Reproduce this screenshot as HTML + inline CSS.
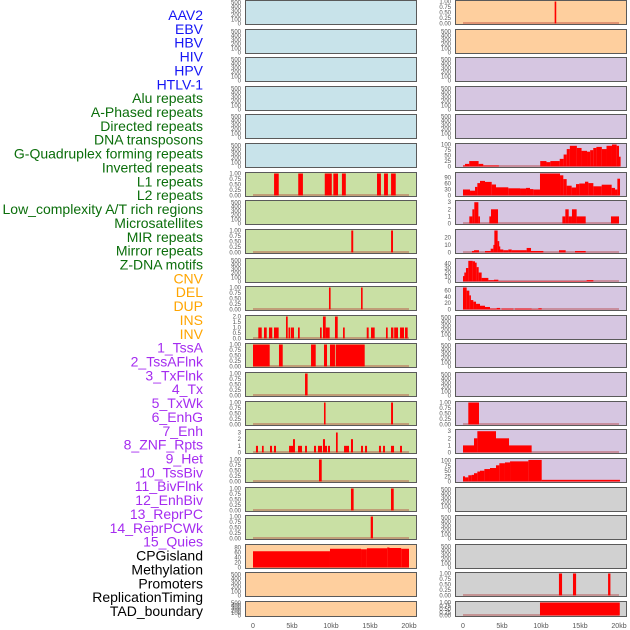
<!DOCTYPE html>
<html><head><meta charset="utf-8">
<style>
html,body{margin:0;padding:0;background:#fff;width:630px;height:630px;overflow:hidden}
svg{display:block}
</style></head>
<body>
<svg id="chart" width="630" height="630" xmlns="http://www.w3.org/2000/svg"></svg>
<script>
// ---------- data (kb positions, values) ----------
const labels = ["AAV2","EBV","HBV","HIV","HPV","HTLV-1","Alu repeats","A-Phased repeats","Directed repeats","DNA transposons","G-Quadruplex forming repeats","Inverted repeats","L1 repeats","L2 repeats","Low_complexity A/T rich regions","Microsatellites","MIR repeats","Mirror repeats","Z-DNA motifs","CNV","DEL","DUP","INS","INV","1_TssA","2_TssAFlnk","3_TxFlnk","4_Tx","5_TxWk","6_EnhG","7_Enh","8_ZNF_Rpts","9_Het","10_TssBiv","11_BivFlnk","12_EnhBiv","13_ReprPC","14_ReprPCWk","15_Quies","CPGisland","Methylation","Promoters","ReplicationTiming","TAD_boundary"];
const labelGroups = [6,13,5,15,5];
const groupColors = ["#1515f5","#0b6e0b","#ffa500","#a52cf0","#000000"];
const xTicks = [0,5,10,15,20];
const xTickLabels = ["0","5kb","10kb","15kb","20kb"];

const L_L1 = [[2.7,3.3,1],[5.8,6.4,1],[9.2,10.1,1],[10.3,10.9,1],[11.4,11.9,1],[15.9,16.4,1],[16.8,17.3,1],[17.7,18.3,1]];
const L_MIR = [[12.6,12.85,1],[17.7,17.95,1]];
const L_DEL = [[9.74,9.95,1],[13.85,14.05,1]];
const L_INS = [[0.68,1.12,1],[1.41,1.76,1],[2.05,2.47,1],[2.69,3.29,1],[4.23,4.45,2],[4.55,4.75,1],[4.85,5.0,1],[5.05,5.22,1],[5.77,5.99,1],[8.59,8.81,1],[8.97,9.32,2],[9.32,9.83,1],[10.51,10.86,2],[11.54,11.76,1],[14.58,14.83,1],[15.13,15.6,1],[17.05,17.27,1],[17.69,18.0,1],[18.1,18.59,1],[18.85,19.36,1],[19.49,19.83,1]];
const L_TSSA = [[0,2.14,1],[3.33,3.81,1],[7.44,8.04,1],[9.1,9.49,1],[9.87,10.51,1],[10.6,14.32,1]];
const L_TSSAFLNK = [[6.67,7.0,1]];
const L_TXWK = [[9.1,9.3,1],[17.7,17.95,1]];
const L_ENH = [[0.38,0.64,1],[1.15,1.37,1],[2.18,2.44,1],[2.69,2.95,1],[4.62,4.87,1],[4.87,5.13,1],[5.13,5.38,2],[5.77,6.28,1],[6.67,6.92,1],[7.82,8.08,1],[8.33,8.85,1],[8.97,9.23,2],[9.23,9.49,1],[9.62,9.87,1],[10.64,10.86,3],[11.67,12.31,1],[12.56,12.82,2],[13.85,14.1,1],[14.36,14.62,1],[16.15,16.41,1],[16.67,16.92,1],[17.69,18.08,1],[18.85,19.1,1]];
const L_HET = [[8.46,8.81,1]];
const L_ENHBIV = [[12.56,12.9,1],[17.69,18.04,1]];
const L_REPRPCWK = [[15.09,15.38,1]];
const L_CPG = [[0,9.87,65],[9.87,13.85,75],[13.85,14.6,73],[14.6,17.2,77],[17.2,17.5,80],[17.5,19.0,78],[19.0,20,75]];

const R_AAV2 = [[11.75,11.95,1]];
const R_GQUAD = [[0,0.26,5],[0.26,0.8,12],[0.8,2.0,25],[2.0,2.6,12],[2.6,4.6,5],[9.9,10.7,25],[10.7,11.2,20],[11.2,12.4,25],[12.4,12.9,35],[12.9,13.3,55],[13.3,13.7,80],[13.7,14.6,95],[14.6,15.2,85],[15.2,15.9,72],[15.9,16.3,68],[16.3,16.7,75],[16.7,17.1,85],[17.1,17.8,90],[17.8,18.4,80],[18.4,19.1,95],[19.1,19.7,104],[19.7,20.0,95],[20.0,20.13,45]];
const R_L1 = [[0,0.9,30],[0.9,1.54,24],[1.54,1.84,43],[1.84,2.18,62],[2.18,2.82,73],[2.82,3.68,68],[3.68,4.23,55],[4.23,5.81,41],[5.81,7.31,36],[7.31,8.08,35],[8.08,8.59,38],[8.59,9.02,32],[9.02,9.87,30],[9.87,12.44,110],[12.44,12.86,101],[12.86,13.29,82],[13.29,13.93,49],[13.93,14.49,40],[14.49,14.91,57],[14.91,15.64,60],[15.64,16.07,69],[16.07,16.71,62],[16.71,17.78,46],[17.78,19.06,54],[19.06,19.49,38],[19.49,19.79,30],[19.79,20.13,84]];
const R_L2 = [[0.81,1.2,1],[1.2,1.45,2],[1.45,1.97,3],[1.97,2.05,1],[3.38,3.59,1],[3.59,4.49,2],[12.74,13.12,1],[13.12,13.55,2],[13.55,13.97,1],[13.97,14.57,2],[14.57,15.73,1],[18.97,20.0,1]];
const R_LOWC = [];
const R_MIR = [[1.15,1.41,2],[1.41,2.05,3],[2.82,3.55,2],[3.55,3.89,5],[3.89,4.02,10],[4.02,4.44,29],[4.44,4.57,15],[4.57,4.74,8],[4.74,5.17,4],[5.17,5.81,3],[5.81,6.24,4],[6.24,8.16,3],[8.16,8.72,6],[8.72,10.3,2],[12.31,13.16,3],[14.36,15.73,2]];
const R_ZDNA = [[0,0.17,12],[0.17,0.38,20],[0.38,0.68,30],[0.68,1.24,46],[1.24,1.54,45],[1.54,1.75,42],[1.75,2.01,32],[2.01,2.39,20],[2.39,3.25,8],[3.25,3.97,3],[3.97,4.53,4],[4.53,15.85,1],[15.85,16.71,3]];
const R_CNV = [[0,0.47,70],[0.47,0.81,60],[0.81,0.98,45],[0.98,1.32,30],[1.32,1.67,25],[1.67,2.18,18],[2.18,2.82,12],[2.82,3.46,8],[3.46,4.32,3],[4.32,4.74,5],[4.96,6.45,3],[6.67,8.8,3],[8.8,9.66,1],[9.66,10.09,4]];
const R_TXWK = [[0.68,2.05,1]];
const R_ENHG = [[0,1.41,1],[1.41,1.84,2],[1.84,4.23,3],[4.23,5.9,2],[5.9,8.8,1]];
const R_ENH = [[0,0.26,25],[0.26,0.68,20],[0.68,1.11,30],[1.11,1.41,32],[1.41,1.84,40],[1.84,2.18,48],[2.18,2.74,52],[2.74,3.46,60],[3.46,4.23,65],[4.23,4.66,78],[4.66,5.38,88],[5.38,6.03,92],[6.03,8.38,97],[8.38,10.09,104],[10.09,20.13,8]];
const R_PROM = [[12.3,12.7,1],[14.1,14.5,1],[18.6,18.9,1]];
const R_TAD = [[9.87,20.1,1]];

// tick sets
const tEmpty = [0,100,200,300,400,500];
const tUnit = [0,0.25,0.5,0.75,1];
const tIns = [0,0.5,1,1.5,2];
const t0to3 = [0,1,2,3];
const tCpg = [0,20,40,60,80];
const t100 = [0,25,50,75,100];
const t90 = [0,30,60,90];
const t20 = [0,10,20];
const t40 = [0,10,20,30,40];
const t60 = [0,20,40,60];

// ---------- layout ----------
const svg = document.getElementById('chart');
const NS = 'http://www.w3.org/2000/svg';
function mk(tag, attrs, parent){ const e=document.createElementNS(NS,tag); for(const k in attrs) e.setAttribute(k,attrs[k]); (parent||svg).appendChild(e); return e; }

const BG = {blue:'#c8e3ea', green:'#c9e0a4', peach:'#fecf9e', purple:'#d6c6e1', gray:'#d1d1d1'};
const colL = {x:245, w:171, zero:253};
const colR = {x:455, w:171, zero:463};
const KB = 7.8;
function xScale(col, kb){ return col.zero + kb*KB; }

// rows: [leftBg, leftData, leftTicks, leftMax, rightBg, rightData, rightTicks, rightMax, name]
const rows = [
 ['blue',null,tEmpty,520,'peach',R_AAV2,tUnit,1,'aav2'],
 ['blue',null,tEmpty,520,'peach',null,tEmpty,520,'ebv'],
 ['blue',null,tEmpty,520,'purple',null,tEmpty,520,'hbv'],
 ['blue',null,tEmpty,520,'purple',null,tEmpty,520,'hiv'],
 ['blue',null,tEmpty,520,'purple',null,tEmpty,520,'hpv'],
 ['blue',null,tEmpty,520,'purple',R_GQUAD,t100,101,'gquad'],
 ['green',L_L1,tUnit,1,'purple',R_L1,t90,110,'l1'],
 ['green',null,tEmpty,520,'purple',R_L2,t0to3,3.1,'l2'],
 ['green',L_MIR,tUnit,1,'purple',R_MIR,t20,29,'mir'],
 ['green',null,tEmpty,520,'purple',R_ZDNA,t40,49,'zdna'],
 ['green',L_DEL,tUnit,1,'purple',R_CNV,t60,70,'del'],
 ['green',L_INS,tIns,2,'purple',null,tEmpty,520,'ins'],
 ['green',L_TSSA,tUnit,1,'purple',null,tEmpty,520,'tssa'],
 ['green',L_TSSAFLNK,tUnit,1,'purple',null,tEmpty,520,'tssaflnk'],
 ['green',L_TXWK,tUnit,1,'purple',R_TXWK,tUnit,1,'txwk'],
 ['green',L_ENH,t0to3,3.3,'purple',R_ENHG,t0to3,3.1,'enh'],
 ['green',L_HET,tUnit,1,'purple',R_ENH,t100,106,'het'],
 ['green',L_ENHBIV,tUnit,1,'gray',null,tEmpty,520,'enhbiv'],
 ['green',L_REPRPCWK,tUnit,1,'gray',null,tEmpty,520,'reprpcwk'],
 ['peach',L_CPG,tCpg,88,'gray',null,tEmpty,520,'cpg'],
 ['peach',null,tEmpty,520,'gray',R_PROM,tUnit,1,'promoters'],
 ['peach',null,tEmpty,520,'gray',R_TAD,tUnit,1,'tad']
];

function fmt(ticks, v){
  if(ticks===tUnit) return v.toFixed(2);
  if(ticks===tIns) return v.toFixed(1);
  return String(v);
}

function drawPanel(col, top, h, bg, data, ticks, ymax, name, side){
  const g = mk('g',{});
  
  
  mk('rect',{x:col.x+0.5,y:top+0.5,width:col.w,height:h,fill:BG[bg],stroke:'#5a5a5a','stroke-width':1},g);
  const bottom = top+h-0.5, innerTop = top+1.5;
  const yS = v => bottom - Math.min(v/ymax,1)*(bottom-innerTop);
  if(data){
    mk('line',{x1:xScale(col,0),x2:xScale(col,20),y1:bottom-0.5,y2:bottom-0.5,stroke:'#b03030','stroke-width':1.2,'stroke-opacity':0.6},g);
    data.forEach(d=>{
      const x0 = xScale(col,d[0]); let w = xScale(col,d[1])-x0; if(w<1.6) w=1.6;
      const y = yS(d[2]);
      const r = mk('rect',{x:x0,y:y,width:w,height:bottom-y,fill:'#ff0000'},g);
      
      
    });
  }
  ticks.forEach(t=>{
    const tx = mk('text',{x:col.x-4,y:yS(t)+2,'font-size':6,fill:'#555','text-anchor':'end','font-family':'Liberation Sans, sans-serif'},g);
    tx.textContent = fmt(ticks,t);
    
    
  });
}

const pitch = 28.62;
rows.forEach((r,i)=>{
  const top = Math.round(i*pitch);
  const h = (i===rows.length-1) ? 15 : 24;
  drawPanel(colL, top, h, r[0], r[1], r[2], r[3], r[8], 'left');
  drawPanel(colR, top, h, r[4], r[5], r[6], r[7], r[8], 'right');
});

// labels
let idx=0;
labelGroups.forEach((n,gi)=>{
  for(let k=0;k<n;k++){
    const t = mk('text',{x:203,y:15+idx*13.86+5,'font-size':14,fill:groupColors[gi],'text-anchor':'end','font-family':'Liberation Sans, sans-serif'});
    t.textContent = labels[idx];
    
    
    idx++;
  }
});

// x axes
[colL,colR].forEach((col,ci)=>{
  xTicks.forEach((v,i)=>{
    const t = mk('text',{x:xScale(col,v),y:628,'font-size':7,fill:'#555','text-anchor':'middle','font-family':'Liberation Sans, sans-serif'});
    t.textContent = xTickLabels[i];
    
    
  });
});
</script>
</body></html>
